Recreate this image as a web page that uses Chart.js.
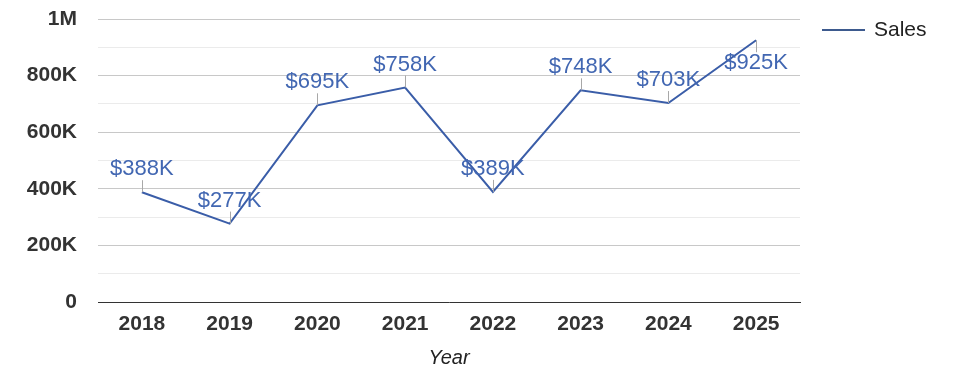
<!DOCTYPE html>
<html>
<head>
<meta charset="utf-8">
<script src="https://cdn.jsdelivr.net/npm/chart.js"></script>
<style>
  html, body { margin: 0; padding: 0; background: #fff; }
  #wrap { width: 975px; height: 378px; }
</style>
</head>
<body>
<div id="wrap"><canvas id="myChart" width="975" height="378"></canvas></div>
<script>
var years = ['2018', '2019', '2020', '2021', '2022', '2023', '2024', '2025'];
var sales = [388000, 277000, 695000, 758000, 389000, 748000, 703000, 925000];
var seriesName = 'Sales';

var lineColor = '#3a5da8';
var labelColor = '#4267b2';

function fmtAxis(v) {
    if (v === 0) return '0';
    if (v >= 1000000) return (v / 1000000) + 'M';
    return (v / 1000) + 'K';
}

// value labels with little leader lines
var pointLabels = {
    id: 'pointLabels',
    afterDatasetsDraw: function(chart) {
        var ctx = chart.ctx;
        var meta = chart.getDatasetMeta(0);
        ctx.save();
        ctx.font = '22px "Liberation Sans", Arial, sans-serif';
        ctx.textAlign = 'center';
        ctx.textBaseline = 'middle';
        meta.data.forEach(function(pt, i) {
            var x = pt.x, y = pt.y;
            var below = (y - 36) < 8;
            var dir = below ? 1 : -1;
            ctx.strokeStyle = '#a8a8a8';
            ctx.lineWidth = 1;
            ctx.beginPath();
            ctx.moveTo(Math.round(x) + 0.5, y);
            ctx.lineTo(Math.round(x) + 0.5, y + dir * 12);
            ctx.stroke();
            ctx.fillStyle = labelColor;
            ctx.fillText('$' + Math.round(sales[i] / 1000) + 'K', x, y + dir * 23);
        });
        ctx.restore();
    }
};

var sideLegend = {
    id: 'sideLegend',
    afterDraw: function(chart) {
        var ctx = chart.ctx;
        ctx.save();
        ctx.strokeStyle = '#3d5a8e';
        ctx.lineWidth = 2;
        ctx.beginPath();
        ctx.moveTo(822, 30);
        ctx.lineTo(865, 30);
        ctx.stroke();
        ctx.fillStyle = '#222';
        ctx.font = '21px "Liberation Sans", Arial, sans-serif';
        ctx.textBaseline = 'middle';
        ctx.fillText(seriesName, 874, 30);
        ctx.restore();
    }
};

var ctx = document.getElementById('myChart').getContext('2d');
var myChart = new Chart(ctx, {
    type: 'line',
    data: {
        labels: years,
        datasets: [{
            label: seriesName,
            data: sales,
            borderColor: lineColor,
            borderWidth: 2,
            pointRadius: 0,
            tension: 0,
            fill: false
        }]
    },
    options: {
        responsive: false,
        animation: false,
        layout: {
            padding: { left: 0, right: 175, top: 19, bottom: 0 }
        },
        plugins: {
            legend: { display: false },
            tooltip: { enabled: false }
        },
        scales: {
            x: {
                offset: true,
                grid: { display: false },
                border: { display: true, color: '#333', width: 1 },
                ticks: {
                    color: '#333',
                    padding: 2,
                    font: { family: '"Liberation Sans", Arial, sans-serif', size: 21, weight: 'bold' }
                },
                title: {
                    display: true,
                    text: 'Year',
                    color: '#222',
                    padding: { top: 0, bottom: 8 },
                    font: { family: '"Liberation Sans", Arial, sans-serif', size: 20, style: 'italic' }
                },
                afterFit: function(scale) { scale.height = 76; }
            },
            y: {
                min: 0,
                max: 1000000,
                border: { display: false },
                grid: {
                    drawTicks: false,
                    color: function(c) {
                        return c.tick && c.tick.value % 200000 === 0 ? '#c8c8c8' : '#ebebeb';
                    }
                },
                ticks: {
                    stepSize: 100000,
                    autoSkip: false,
                    padding: 21,
                    color: '#333',
                    font: { family: '"Liberation Sans", Arial, sans-serif', size: 21, weight: 'bold' },
                    callback: function(v) {
                        return v % 200000 === 0 ? fmtAxis(v) : '';
                    }
                },
                afterFit: function(scale) {
                    scale.width = 98;
                    scale.paddingTop = 0;
                    scale.paddingBottom = 0;
                }
            }
        }
    },
    plugins: [pointLabels, sideLegend]
});
</script>
</body>
</html>
